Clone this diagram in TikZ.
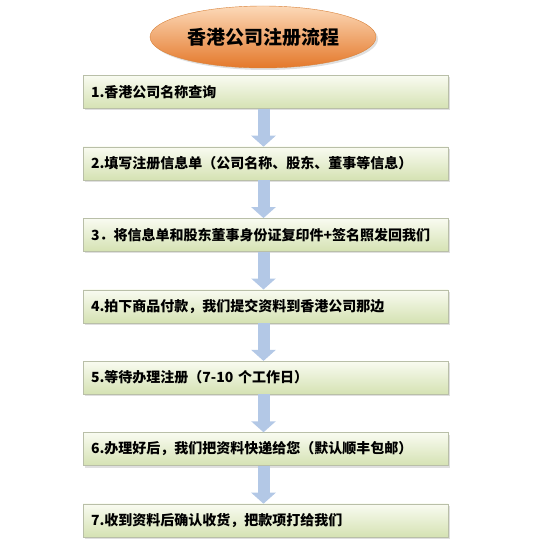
\documentclass[tikz,border=0pt]{standalone}
\usepackage{fontspec}
\setmainfont{Noto Sans CJK SC}
\usepackage{tikz}
\usetikzlibrary{arrows.meta,positioning,shapes.geometric,shadows}
\definecolor{boxtop}{HTML}{F9FBF1}
\definecolor{boxbot}{HTML}{D5E2B3}
\definecolor{boxline}{HTML}{B9BFA8}
\definecolor{titletop}{HTML}{FCD9B8}
\definecolor{titlebot}{HTML}{E4782A}
\definecolor{titleline}{HTML}{D8823A}
\definecolor{flowblue}{HTML}{B3C8E6}

\begin{document}
\begin{tikzpicture}[x=1pt,y=-1pt,node distance=38pt,>=Latex,
  stepbox/.style={draw=boxline,top color=boxtop,bottom color=boxbot,text width=349pt,inner xsep=8pt,minimum height=33pt,align=left,
    font=\bfseries\fontsize{14}{16}\selectfont,drop shadow={shadow xshift=2pt,shadow yshift=-2pt,opacity=0.25}},
  titlebox/.style={ellipse,draw=titleline,top color=titletop,bottom color=titlebot,minimum width=226pt,minimum height=62pt,
    font=\bfseries\fontsize{19}{22}\selectfont,drop shadow={shadow xshift=2pt,shadow yshift=-2pt,opacity=0.25}},
  flow/.style={draw=flowblue,line width=12pt,-{Triangle[width=24pt,length=11pt]}}]
\useasboundingbox (0,0) rectangle (540,540);
\node[titlebox] (t) at (263,37) {香港公司注册流程};
\node[stepbox] (s1) at (265.5,92) {1.香港公司名称查询};
\node[stepbox,below=of s1] (s2) {2.填写注册信息单（公司名称、股东、董事等信息）};
\node[stepbox,below=of s2] (s3) {3．将信息单和股东董事身份证复印件+签名照发回我们};
\node[stepbox,below=of s3] (s4) {4.拍下商品付款，我们提交资料到香港公司那边};
\node[stepbox,below=of s4] (s5) {5.等待办理注册（7-10 个工作日）};
\node[stepbox,below=of s5] (s6) {6.办理好后，我们把资料快递给您（默认顺丰包邮）};
\node[stepbox,below=of s6] (s7) {7.收到资料后确认收货，把款项打给我们};
\foreach \a/\b in {s1/s2,s2/s3,s3/s4,s4/s5,s5/s6,s6/s7}
  \draw[flow] ([xshift=-2pt]\a.south) -- ([xshift=-2pt]\b.north);
\end{tikzpicture}
\end{document}
